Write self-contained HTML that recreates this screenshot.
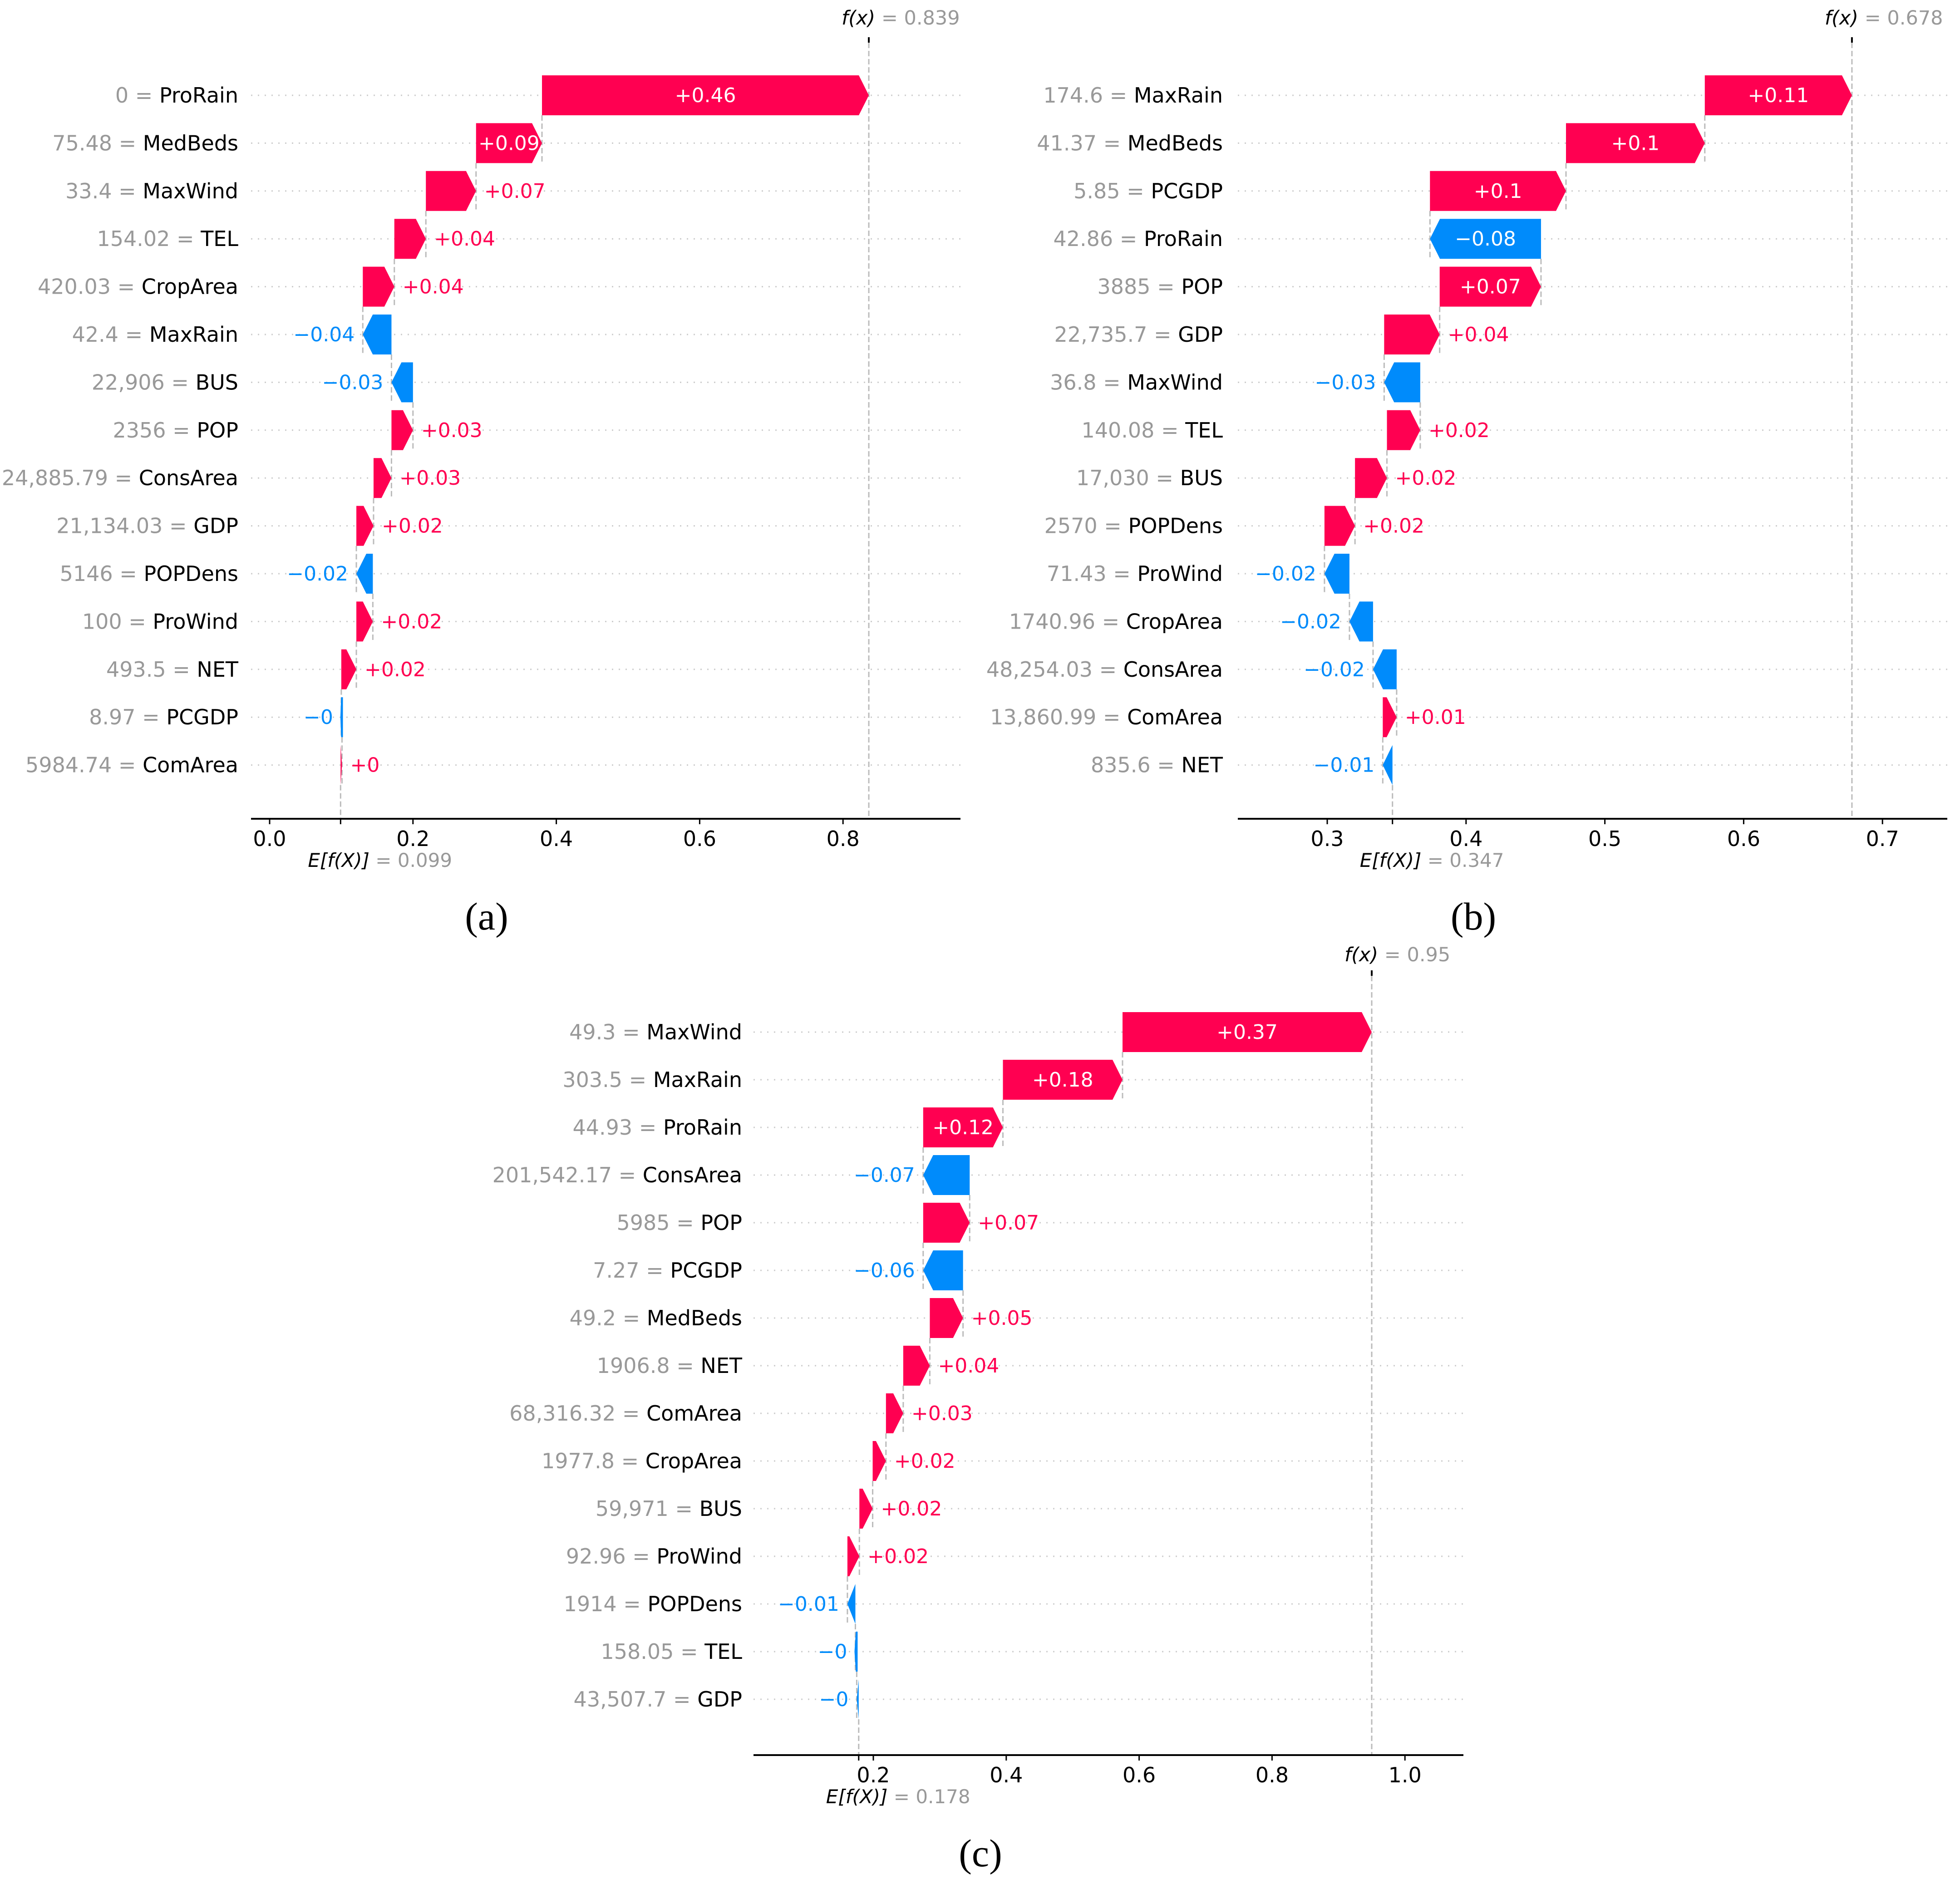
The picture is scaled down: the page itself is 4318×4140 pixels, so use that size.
<!DOCTYPE html>
<html><head><meta charset="utf-8"><style>
html,body{margin:0;padding:0;background:#fff;}
svg{display:block;font-family:"DejaVu Sans","Liberation Sans",sans-serif;}
.cap{font-family:"Liberation Serif",serif;}
</style></head><body>
<svg id="chart" xmlns="http://www.w3.org/2000/svg" width="4318" height="4140" viewBox="0 0 4318 4140">
<rect width="4318" height="4140" fill="#fff"/>
</svg>
<script>
// ---------- Panel (a) data (top to bottom) ----------
const aFeatures = ["ProRain","MedBeds","MaxWind","TEL","CropArea","MaxRain","BUS","POP","ConsArea","GDP","POPDens","ProWind","NET","PCGDP ","ComArea"];
const aFeatVals = ["0","75.48","33.4","154.02","420.03","42.4","22,906","2356","24,885.79","21,134.03","5146","100","493.5","8.97","5984.74"];
const aShap = [0.456,0.092,0.07,0.044,0.044,-0.04,-0.03,0.03,0.025,0.024,-0.023,0.023,0.021,-0.001,0.002];
const aShapLabels = ["+0.46","+0.09","+0.07","+0.04","+0.04","\u22120.04","\u22120.03","+0.03","+0.03","+0.02","\u22120.02","+0.02","+0.02","\u22120","+0"];
const aBase = 0.099;
const aBaseLabel = "0.099";
const aFxLabel = "0.839";
const aTicks = [0,0.2,0.4,0.6,0.8];
const aTickLabels = ["0.0","0.2","0.4","0.6","0.8"];

// ---------- Panel (b) data ----------
const bFeatures = ["MaxRain","MedBeds","PCGDP","ProRain","POP","GDP","MaxWind","TEL","BUS","POPDens","ProWind","CropArea","ConsArea","ComArea","NET"];
const bFeatVals = ["174.6","41.37","5.85","42.86","3885","22,735.7","36.8","140.08","17,030","2570","71.43","1740.96","48,254.03","13,860.99","835.6"];
const bShap = [0.106,0.1,0.098,-0.08,0.073,0.04,-0.026,0.024,0.023,0.022,-0.018,-0.017,-0.017,0.01,-0.007];
const bShapLabels = ["+0.11","+0.1","+0.1","\u22120.08","+0.07","+0.04","\u22120.03","+0.02","+0.02","+0.02","\u22120.02","\u22120.02","\u22120.02","+0.01","\u22120.01"];
const bBase = 0.347;
const bBaseLabel = "0.347";
const bFxLabel = "0.678";
const bTicks = [0.3,0.4,0.5,0.6,0.7];
const bTickLabels = ["0.3","0.4","0.5","0.6","0.7"];

// ---------- Panel (c) data ----------
const cFeatures = ["MaxWind","MaxRain","ProRain","ConsArea","POP","PCGDP ","MedBeds","NET","ComArea","CropArea","BUS","ProWind","POPDens","TEL","GDP"];
const cFeatVals = ["49.3","303.5","44.93","201,542.17","5985","7.27","49.2","1906.8","68,316.32","1977.8","59,971","92.96","1914","158.05","43,507.7"];
const cShap = [0.375,0.18,0.12,-0.07,0.07,-0.06,0.05,0.04,0.026,0.02,0.02,0.018,-0.012,-0.002,-0.003];
const cShapLabels = ["+0.37","+0.18","+0.12","\u22120.07","+0.07","\u22120.06","+0.05","+0.04","+0.03","+0.02","+0.02","+0.02","\u22120.01","\u22120","\u22120"];
const cBase = 0.178;
const cBaseLabel = "0.178";
const cFxLabel = "0.95";
const cTicks = [0.2,0.4,0.6,0.8,1.0];
const cTickLabels = ["0.2","0.4","0.6","0.8","1.0"];

const NS = "http://www.w3.org/2000/svg";
const svg = document.getElementById("chart");
const RED = "#ff0051", BLUE = "#008bfb", GRAY = "#999999";

function mk(tag, attrs, parent){
  const e = document.createElementNS(NS, tag);
  for (const k in attrs) e.setAttribute(k, attrs[k]);
  (parent||svg).appendChild(e);
  return e;
}

function drawPanel(id, L, features, featVals, shap, shapLabels, base, baseLabel, fxLabel, ticks, tickLabels){
  const g = mk("g", {});
  
  
  const xs = v => L.x0 + (v - L.v0) * L.k;
  const n = features.length;
  const rowY = i => L.y0 + i * L.dy;
  const starts = new Array(n), ends = new Array(n);
  let cum = base;
  for (let i = n - 1; i >= 0; i--) { starts[i] = cum; cum += shap[i]; ends[i] = cum; }
  const fx = cum;

  for (let i = 0; i < n; i++) {
    const gl = mk("line", {x1:L.ax1, x2:L.ax2, y1:rowY(i), y2:rowY(i), stroke:"#cccccc", "stroke-width":3, "stroke-dasharray":"3 12"}, g);
    
    
  }
  const bl = mk("line", {x1:xs(base), x2:xs(base), y1:rowY(n-1)+44, y2:L.axY, stroke:"#bbbbbb", "stroke-width":3, "stroke-dasharray":"12 6"}, g);
  
  
  const fl = mk("line", {x1:xs(fx), x2:xs(fx), y1:L.fTickY, y2:L.axY, stroke:"#bbbbbb", "stroke-width":3, "stroke-dasharray":"12 6"}, g);
  
  
  for (let i = n - 1; i > 0; i--) {
    const x = xs(ends[i]);
    const cl = mk("line", {x1:x, x2:x, y1:rowY(i-1)+44, y2:rowY(i)+44, stroke:"#bbbbbb", "stroke-width":3, "stroke-dasharray":"12 6"}, g);
    
    
  }
  const hh = 44, tipMax = 22;
  for (let i = 0; i < n; i++) {
    const y = rowY(i);
    const a = xs(starts[i]), b = xs(ends[i]);
    const pos = shap[i] >= 0;
    const w = Math.abs(b - a);
    const tip = Math.min(tipMax, w);
    let pts;
    if (pos) pts = [[a,y-hh],[b-tip,y-hh],[b,y],[b-tip,y+hh],[a,y+hh]];
    else pts = [[a,y-hh],[b+tip,y-hh],[b,y],[b+tip,y+hh],[a,y+hh]];
    const bar = mk("polygon", {points: pts.map(p=>p.join(",")).join(" "), fill: pos?RED:BLUE}, g);
    
    
    if (w < 3) { bar.setAttribute("stroke", pos?RED:BLUE); bar.setAttribute("stroke-width", 4); }

    const t = mk("text", {x:0, y:y+15, "font-size":44}, g);
    t.textContent = shapLabels[i];
    
    
    const tw = t.getComputedTextLength ? t.getComputedTextLength() : shapLabels[i].length*26;
    if (tw + 4 < w) {
      t.setAttribute("x", (a+b)/2); t.setAttribute("text-anchor","middle"); t.setAttribute("fill","#fff");
    } else if (pos) {
      t.setAttribute("x", b + 18); t.setAttribute("text-anchor","start"); t.setAttribute("fill",RED);
    } else {
      t.setAttribute("x", b - 18); t.setAttribute("text-anchor","end"); t.setAttribute("fill",BLUE);
    }

    const fl2 = mk("text", {x:L.labelX, y:y+16, "font-size":46, "text-anchor":"end", "xml:space":"preserve"}, g);
    
    
    const s1 = mk("tspan", {fill:GRAY}, fl2); s1.textContent = featVals[i] + " = ";
    const s2 = mk("tspan", {fill:"#000"}, fl2); s2.textContent = features[i];
  }
  const ax = mk("line", {x1:L.ax1, x2:L.ax2, y1:L.axY, y2:L.axY, stroke:"#000", "stroke-width":4}, g);
  
  
  const tkb = mk("line", {x1:xs(base), x2:xs(base), y1:L.axY, y2:L.axY+12, stroke:"#000", "stroke-width":3}, g);
  
  
  for (let j = 0; j < ticks.length; j++) {
    const x = xs(ticks[j]);
    const tk = mk("line", {x1:x, x2:x, y1:L.axY, y2:L.axY+12, stroke:"#000", "stroke-width":3}, g);
    
    
    const tl = mk("text", {x:x, y:L.axY+60, "font-size":46, "text-anchor":"middle", fill:"#000"}, g);
    tl.textContent = tickLabels[j];
    
    
  }
  const el = mk("text", {x:xs(base)-72, y:L.axY+106, "font-size":42}, g);
  
  
  const e1 = mk("tspan", {fill:"#000","font-style":"italic"}, el); e1.textContent = "E[f(X)]";
  const e2 = mk("tspan", {fill:GRAY}, el); e2.textContent = " = " + baseLabel;
  const ft = mk("line", {x1:xs(fx), x2:xs(fx), y1:L.fTickY-12, y2:L.fTickY, stroke:"#000", "stroke-width":4}, g);
  
  
  const fxl = mk("text", {x:xs(fx)-60, y:L.fLabelY, "font-size":43}, g);
  
  
  const f1 = mk("tspan", {fill:"#000","font-style":"italic"}, fxl); f1.textContent = "f(x)";
  const f2 = mk("tspan", {fill:GRAY}, fxl); f2.textContent = " = " + fxLabel;
  const cap = mk("text", {x:L.capX, y:L.capY, "font-size":86, "text-anchor":"middle", fill:"#000", "class":"cap"}, g);
  cap.textContent = "(" + id + ")";
  
  
}

drawPanel("a", {x0:594, v0:0, k:1579, y0:210, dy:105.4, axY:1804, ax1:553, ax2:2116, labelX:525, fTickY:94, fLabelY:54, capX:1072, capY:2048},
  aFeatures, aFeatVals, aShap, aShapLabels, aBase, aBaseLabel, aFxLabel, aTicks, aTickLabels);
drawPanel("b", {x0:2924, v0:0.3, k:3058, y0:210, dy:105.4, axY:1804, ax1:2727, ax2:4290, labelX:2694, fTickY:94, fLabelY:54, capX:3246, capY:2048},
  bFeatures, bFeatVals, bShap, bShapLabels, bBase, bBaseLabel, bFxLabel, bTicks, bTickLabels);
drawPanel("c", {x0:1924, v0:0.2, k:1464, y0:2274, dy:105.0, axY:3867, ax1:1660, ax2:3224, labelX:1635, fTickY:2150, fLabelY:2118, capX:2160, capY:4112},
  cFeatures, cFeatVals, cShap, cShapLabels, cBase, cBaseLabel, cFxLabel, cTicks, cTickLabels);
</script>
</body></html>
